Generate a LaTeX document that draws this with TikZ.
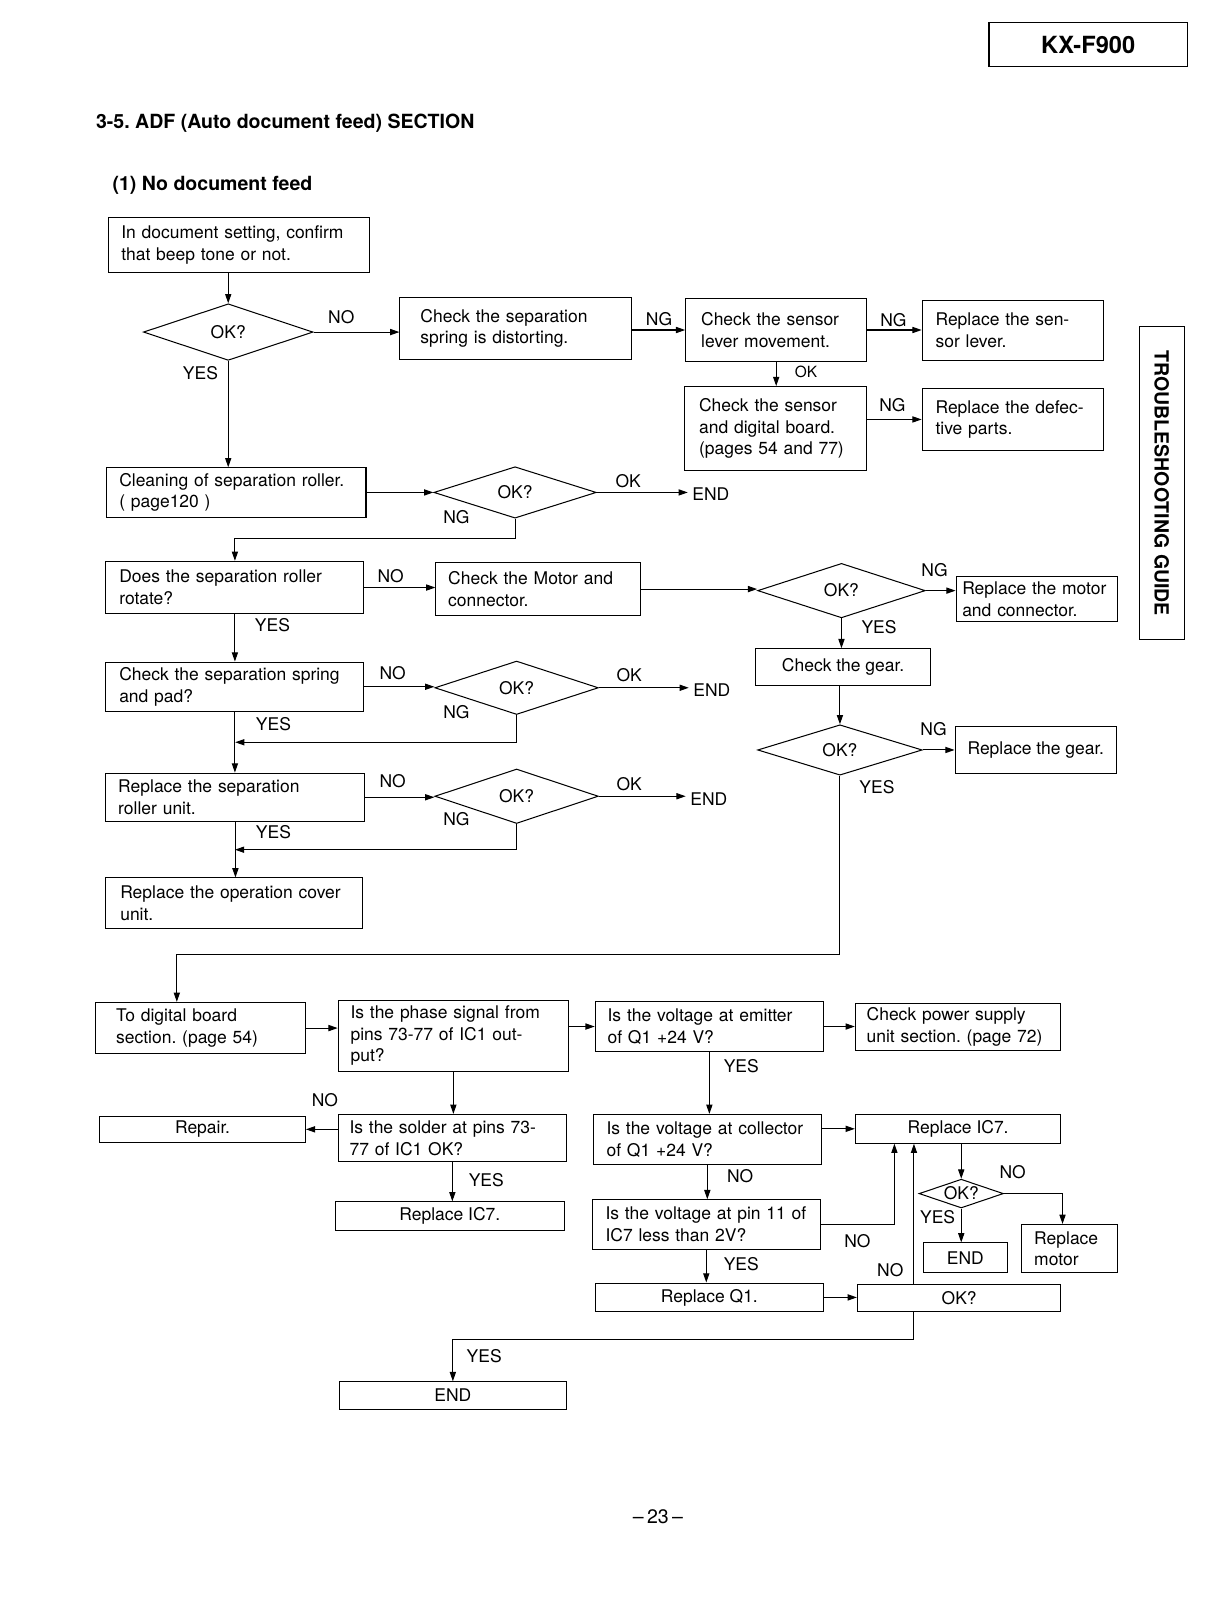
\documentclass[tikz,border=0pt]{standalone}
\usepackage{fontspec}
\setmainfont{TeX Gyre Heros}
\usetikzlibrary{shapes.geometric,arrows.meta,calc}
\frenchspacing

\begin{document}
\begin{tikzpicture}[x=1pt,y=-1pt,line width=1pt,
	pbox/.style n args={3}{draw,minimum width=#1,minimum height=#2,text width=#3,align=left},
	cbox/.style 2 args={draw,minimum width=#1,minimum height=#2,align=center},
	dia/.style 2 args={draw,diamond,shape aspect=3,minimum width=#1,minimum height=#2},
	arr/.style={-{Triangle[length=9pt,width=6pt]}}]
	\tikzstyle{every node}+=[inner sep=0pt,font=\fontsize{17}{21}\selectfont]
	\useasboundingbox (0,0) rectangle (1195,1568);
	\node[draw,minimum width=193,minimum height=43,font=\fontsize{23}{26}\selectfont\bfseries] (model) at (1058.5,43.5) {KX-F900};
	\node[anchor=west,font=\fontsize{19}{22}\selectfont\bfseries] (sect) at (93,120) {3-5. ADF (Auto document feed) SECTION};
	\node[anchor=west,font=\fontsize{19}{22}\selectfont\bfseries] (sub) at (109,180) {(1) No document feed};
	\node[draw,rotate=-90,minimum width=304,minimum height=44,font=\fontsize{19}{22}\selectfont\bfseries] (guide) at (1130,470) {TROUBLESHOOTING GUIDE};
	\node[font=\fontsize{19}{22}\selectfont] (pgno) at (640,1475) {--\,23\,--};
	\node[pbox={253}{53}{229pt}] (start) at (232.5,238.5) {In document setting, confirm\\that beep tone or not.};
	\node[dia={165}{55}] (okBeep) at (222,323) {OK?};
	\node[pbox={225}{61}{185pt}] (chkSpring) at (501.5,319.5) {Check the separation\\spring is distorting.};
	\node[pbox={176}{62}{146pt}] (chkLever) at (755,321) {Check the sensor\\lever movement.};
	\node[pbox={176}{59}{150pt}] (repLever) at (985,321.5) {Replace the sen-\\sor lever.};
	\node[pbox={177}{82}{149pt}] (chkBoard) at (754.5,417) {Check the sensor\\and digital board.\\(pages 54 and 77)};
	\node[pbox={176}{60}{150pt}] (repParts) at (985,408) {Replace the defec-\\tive parts.};
	\node[pbox={252}{48}{228pt}] (clean) at (230,479) {Cleaning of separation roller.\\( page120 )};
	\node[dia={158}{50}] (okClean) at (501,479) {OK?};
	\node[anchor=west] (endA) at (673,481) {END};
	\node[pbox={251}{51}{225pt}] (rollRot) at (228.5,571.5) {Does the separation roller\\rotate?};
	\node[pbox={199}{52}{175pt}] (chkMotor) at (523.5,573) {Check the Motor and\\connector.};
	\node[dia={163}{53}] (okMotor) at (818.5,574.5) {OK?};
	\node[pbox={157}{44}{145pt}] (repMotor) at (1008.5,583) {Replace the motor\\and connector.};
	\node[cbox={170}{36}] (chkGear) at (820,649) {Check the gear.};
	\node[dia={160}{49}] (okGear) at (817,729.5) {OK?};
	\node[cbox={157}{45}] (repGear) at (1007.5,729.5) {Replace the gear.};
	\node[pbox={251}{48}{225pt}] (chkPad) at (228.5,668) {Check the separation spring\\and pad?};
	\node[dia={159}{52}] (okPad) at (502.5,669) {OK?};
	\node[anchor=west] (endB) at (674,671) {END};
	\node[pbox={252}{47}{228pt}] (repRoller) at (229,775.5) {Replace the separation\\roller unit.};
	\node[dia={159}{53}] (okRoller) at (502.5,774.5) {OK?};
	\node[anchor=west] (endC) at (671,777) {END};
	\node[pbox={250}{49}{222pt}] (repCover) at (228,878.5) {Replace the operation cover\\unit.};
	\node[pbox={204}{50}{164pt}] (digital) at (195,1000) {To digital board\\section. (page 54)};
	\node[pbox={224}{69}{200pt}] (phase) at (441,1007.5) {Is the phase signal from\\pins 73-77 of IC1 out-\\put?};
	\node[pbox={222}{49}{198pt}] (emitter) at (690,998.5) {Is the voltage at emitter\\of Q1 +24 V?};
	\node[pbox={200}{46}{178pt}] (power) at (932,999) {Check power supply\\unit section. (page 72)};
	\node[pbox={222}{46}{200pt}] (solder) at (440,1107) {Is the solder at pins 73-\\77 of IC1 OK?};
	\node[cbox={200}{25}] (repair) at (197,1098.5) {Repair.};
	\node[cbox={223}{28}] (repIcA) at (437.5,1183) {Replace IC7.};
	\node[pbox={222}{49}{196pt}] (collector) at (688,1108.5) {Is the voltage at collector\\of Q1 +24 V?};
	\node[cbox={200}{28}] (repIcB) at (932,1098) {Replace IC7.};
	\node[pbox={222}{48}{196pt}] (pinV) at (687,1191) {Is the voltage at pin 11 of\\IC7 less than 2V?};
	\node[cbox={222}{28}] (repQ) at (690,1262) {Replace Q1.};
	\node[cbox={198}{27}] (okQ) at (933,1262.5) {OK?};
	\node[dia={82}{28}] (okIc) at (935,1161) {OK?};
	\node[cbox={82}{29}] (endIc) at (939,1223.5) {END};
	\node[pbox={93}{47}{69pt}] (repM) at (1040.5,1214.5) {Replace\\motor};
	\node[cbox={221}{27}] (endD) at (440.5,1357.5) {END};
	\node (noA) at (332,308) {NO};
	\node (ngA) at (641,310) {NG};
	\node (ngB) at (869,311) {NG};
	\node[font=\fontsize{15}{18}\selectfont] (okA) at (784,362) {OK};
	\node (ngC) at (868,394) {NG};
	\node (yesA) at (195,363) {YES};
	\node (okB) at (611,468) {OK};
	\node (ngD) at (444,503) {NG};
	\node (noB) at (380,560) {NO};
	\node (ngE) at (909,555) {NG};
	\node (yesB) at (855,610) {YES};
	\node (yesC) at (265,608) {YES};
	\node (noC) at (382,655) {NO};
	\node (okC) at (612,657) {OK};
	\node (ngF) at (444,693) {NG};
	\node (yesD) at (266,704) {YES};
	\node (noD) at (382,760) {NO};
	\node (okD) at (612,763) {OK};
	\node (ngG) at (444,797) {NG};
	\node (yesE) at (266,809) {YES};
	\node (ngH) at (908,709) {NG};
	\node (yesF) at (853,766) {YES};
	\node (noE) at (316,1070) {NO};
	\node (yesG) at (473,1148) {YES};
	\node (yesH) at (721,1037) {YES};
	\node (noF) at (720,1144) {NO};
	\node (noG) at (834,1207) {NO};
	\node (yesI) at (721,1230) {YES};
	\node (noH) at (866,1235) {NO};
	\node (yesJ) at (471,1319) {YES};
	\node (noI) at (985,1140) {NO};
	\node (yesK) at (912,1184) {YES};
	\draw[arr] (start.south -| okBeep.north) -- (okBeep.north);
	\draw[arr] (okBeep.east) -- (okBeep.east -| chkSpring.west);
	\draw[arr] (chkSpring.east |- chkLever.west) -- (chkLever.west);
	\draw[arr] (chkLever.east) -- (chkLever.east -| repLever.west);
	\draw[arr] (chkLever.south) -- (chkLever.south |- chkBoard.north);
	\draw[arr] (chkBoard.east |- repParts.west) -- (repParts.west);
	\draw[arr] (okBeep.south) -- (okBeep.south |- clean.north);
	\draw[arr] (clean.east) -- (okClean.west);
	\draw[arr] (okClean.east) -- ([xshift=-4pt]okClean.east -| endA.west);
	\draw[arr] (okClean.south) -- ++(0,19) -| (rollRot.north);
	\draw[arr] (rollRot.east) -- (rollRot.east -| chkMotor.west);
	\draw[arr] (chkMotor.east) -- (chkMotor.east -| okMotor.west);
	\draw[arr] (okMotor.east) -- (okMotor.east -| repMotor.west);
	\draw[arr] (okMotor.south) -- (okMotor.south |- chkGear.north);
	\draw[arr] (okGear.north |- chkGear.south) -- (okGear.north);
	\draw[arr] (okGear.east) -- (okGear.east -| repGear.west);
	\draw[arr] (okGear.south) -- ++(0,174) -| ([xshift=-23pt]digital.north);
	\draw[arr] (rollRot.south) -- (rollRot.south |- chkPad.north);
	\draw[arr] (chkPad.east) -- (chkPad.east -| okPad.west);
	\draw[arr] (okPad.east) -- ([xshift=-4pt]okPad.east -| endB.west);
	\draw[arr] (okPad.south) |- ($(chkPad.south)!.5!(repRoller.north)$);
	\draw[arr] (chkPad.south) -- (chkPad.south |- repRoller.north);
	\draw[arr] (repRoller.east) -- (repRoller.east -| okRoller.west);
	\draw[arr] (okRoller.east) -- ([xshift=-4pt]okRoller.east -| endC.west);
	\draw[arr] (okRoller.south) |- ($(repRoller.south)!.5!(repCover.north)$);
	\draw[arr] (repRoller.south) -- (repRoller.south |- repCover.north);
	\draw[arr] (digital.east) -- (digital.east -| phase.west);
	\draw[arr] (phase.east |- emitter.west) -- (emitter.west);
	\draw[arr] (emitter.east) -- (emitter.east -| power.west);
	\draw[arr] (phase.south) -- (phase.south |- solder.north);
	\draw[arr] (solder.west |- repair.east) -- (repair.east);
	\draw[arr] (solder.south) -- (solder.south |- repIcA.north);
	\draw[arr] (emitter.south) -- (emitter.south |- collector.north);
	\draw[arr] (collector.east |- repIcB.west) -- (repIcB.west);
	\draw[arr] (collector.south) -- (collector.south |- pinV.north);
	\draw[arr] (pinV.east) -| ([xshift=-62pt]repIcB.south);
	\draw[arr] (pinV.south) -- (pinV.south |- repQ.north);
	\draw[arr] (repQ.east) -- (repQ.east -| okQ.west);
	\draw[arr] ([xshift=-44pt]okQ.north) -- ([xshift=-44pt]okQ.north |- repIcB.south);
	\draw[arr] ([xshift=-44pt]okQ.south) -- ++(0,26) -| (endD.north);
	\draw[arr] (repIcB.south -| okIc.north) -- (okIc.north);
	\draw[arr] (okIc.east) -| ([xshift=-7pt]repM.north);
	\draw[arr] (okIc.south) -- (okIc.south |- endIc.north);
\end{tikzpicture}
\end{document}
